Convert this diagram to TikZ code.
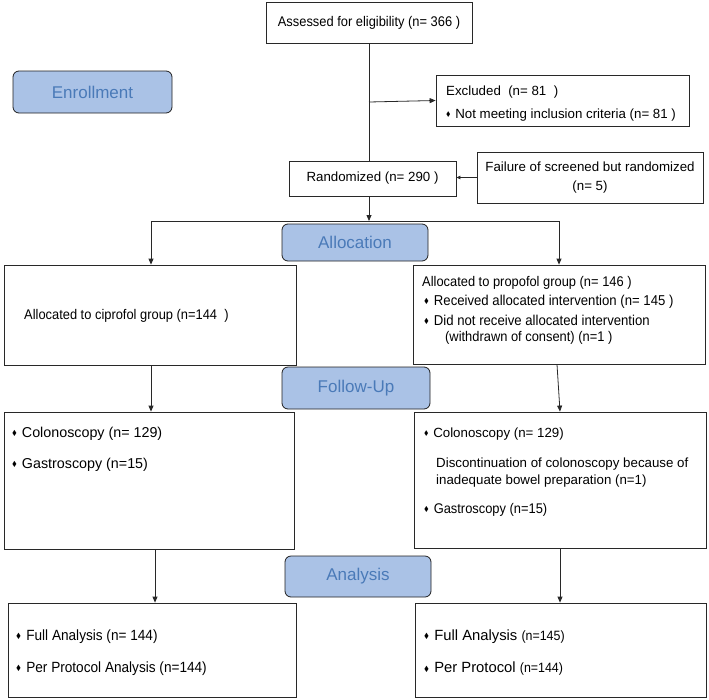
\documentclass[tikz,border=0pt]{standalone}
\usepackage{fontspec}
\usepackage{amssymb}
\setmainfont{Liberation Sans}
\newfontfamily\narrowfont{Liberation Sans}[FakeStretch=0.92]
\usetikzlibrary{arrows.meta}
\definecolor{lblfill}{RGB}{170,194,230}
\definecolor{lbltext}{RGB}{74,122,184}
\definecolor{linec}{RGB}{40,40,40}
\newcommand\dbul{\raisebox{0.25ex}{\scalebox{0.5}{$\blacklozenge$}}\hspace{0.35em}}
\begin{document}
\begin{tikzpicture}[x=1pt,y=-1pt,
  box/.style={draw=linec,line width=0.8pt,fill=white,inner sep=0pt},
  lbl/.style={draw=linec!80!black,line width=0.8pt,fill=lblfill,rounded corners=6pt,inner sep=0pt,text=lbltext,font=\fontsize{17}{19}\selectfont},
  txt/.style={inner sep=0pt,anchor=west,font=\narrowfont\fontsize{14}{16}\selectfont},
  nrm/.style={txt,font=\fontsize{13.3}{15}\selectfont},
  conn/.style={draw=linec,line width=0.8pt},
  arr/.style={conn,-{Triangle[length=6pt,width=5pt]}}]
\useasboundingbox (0,0) rectangle (709,699);
% boxes
\node[box,minimum width=206pt,minimum height=41pt] (assess) at (369,22.5) {};
\node[box,minimum width=253pt,minimum height=51pt] (excl) at (562.5,100.5) {};
\node[box,minimum width=167pt,minimum height=35pt] (rand) at (372.5,178.5) {};
\node[box,minimum width=226pt,minimum height=51pt] (fail) at (590,177.5) {};
\node[lbl,minimum width=159pt,minimum height=42pt] (enroll) at (92.5,92) {Enrollment};
\node[box,minimum width=292pt,minimum height=100pt] (allocL) at (150,315) {};
\node[box,minimum width=292pt,minimum height=99pt] (allocR) at (559,314.5) {};
\node[box,minimum width=290pt,minimum height=137pt] (fuL) at (149,480.5) {};
\node[box,minimum width=292pt,minimum height=136pt] (fuR) at (560,480) {};
\node[box,minimum width=288pt,minimum height=94pt] (anL) at (152,650) {};
\node[box,minimum width=291pt,minimum height=94pt] (anR) at (560.5,650) {};
% coordinates
\coordinate (b1) at (369,102);
\coordinate (b2) at (369,221);
\coordinate (lt) at (151,221);
\coordinate (rt) at (559,221);
% connectors
\draw[conn] (assess.south) -- (assess.south |- rand.north);
\draw[arr] (b1) -- (excl.west);
\draw[conn,-{Triangle[length=4pt,width=3.5pt]}] (fail.west) -- (rand.east |- fail.west);
\draw[arr] (rand.south -| b2) -- (b2);
\draw[conn] (lt) -- (rt);
\draw[arr] (lt) -- (lt |- allocL.north);
\draw[arr] (rt) -- (rt |- allocR.north);
\draw[arr] (allocL.south -| lt) -- (lt |- fuL.north);
\draw[arr] (allocR.south -| 557,0) -- (fuR.north);
\draw[arr] (fuL.south -| 155,0) -- (anL.north -| 155,0);
\draw[arr] (fuR.south) -- (anR.north -| fuR.south);
% label boxes on top
\node[lbl,minimum width=146pt,minimum height=37pt] (alloc) at (355,242.5) {Allocation};
\node[lbl,minimum width=148pt,minimum height=42pt] (follow) at (356,388) {Follow-Up};
\node[lbl,minimum width=146pt,minimum height=41pt] (anal) at (358,576.5) {Analysis};
% texts
\node[txt,anchor=center] (t1) at (assess.center) {Assessed for eligibility (n= 366 )};
\node[nrm] (t2) at (446,92) {Excluded\ \ (n= 81\ \ )};
\node[nrm] (t3) at (446,115) {\dbul Not meeting inclusion criteria (n= 81\ )};
\node[nrm,anchor=center] (t4) at (rand.center) {Randomized (n= 290 )};
\node[nrm,anchor=center,align=center,font=\fontsize{13.3}{19}\selectfont] (t5) at (fail.center) {Failure of screened but randomized\\(n= 5)};
\node[txt] (t6) at (24,316) {Allocated to ciprofol group (n=144\ \ )};
\node[txt] (t7) at (422,283) {Allocated to propofol group (n= 146 )};
\node[txt,font=\narrowfont\fontsize{14.3}{16}\selectfont] (t8) at (424,302) {\dbul Received allocated intervention (n= 145 )};
\node[txt,font=\narrowfont\fontsize{14.3}{16}\selectfont] (t9) at (424,320) {\dbul Did not receive allocated intervention};
\node[txt] (t10) at (445,338) {(withdrawn of consent) (n=1 )};
\node[nrm,font=\fontsize{14.3}{16}\selectfont] (t11) at (12,434) {\dbul Colonoscopy (n= 129)};
\node[nrm,font=\fontsize{14.3}{16}\selectfont] (t12) at (12,465) {\dbul Gastroscopy (n=15)};
\node[nrm] (t13) at (424,434) {\dbul Colonoscopy (n= 129)};
\node[nrm] (t14) at (436,464) {Discontinuation of colonoscopy because of};
\node[nrm] (t15) at (436,481) {inadequate bowel preparation (n=1)};
\node[txt] (t16) at (424,510) {\dbul Gastroscopy (n=15)};
\node[txt,font=\narrowfont\fontsize{14.8}{16}\selectfont] (t17) at (16,637) {\dbul Full Analysis (n= 144)};
\node[txt,font=\narrowfont\fontsize{14.8}{16}\selectfont] (t18) at (16,669) {\dbul Per Protocol Analysis (n=144)};
\node[nrm,font=\fontsize{14.8}{16}\selectfont] (t19) at (424,637) {\dbul Full Analysis {\narrowfont\fontsize{13.5}{15}\selectfont (n=145)}};
\node[nrm,font=\fontsize{14.8}{16}\selectfont] (t20) at (424,669) {\dbul Per Protocol {\narrowfont\fontsize{13.5}{15}\selectfont (n=144)}};
\end{tikzpicture}
\end{document}
